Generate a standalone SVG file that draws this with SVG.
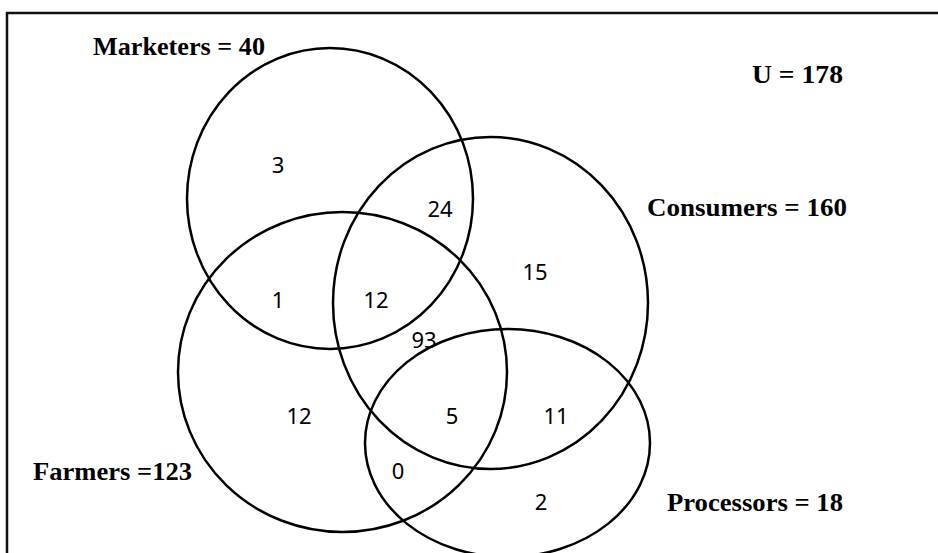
<svg xmlns="http://www.w3.org/2000/svg" width="938" height="553" viewBox="0 0 938 553">
<style>
  .frame { fill: none; stroke: #111; stroke-width: 2.5; }
  .set { fill: none; stroke: #000; stroke-width: 2.5; }
  .lbl { font-family: "Liberation Serif", "Times New Roman", serif; font-size: 26px; font-weight: bold; fill: #000; }
  .num { font-family: "Noto Sans", "Open Sans", sans-serif; font-size: 22px; fill: #000; text-anchor: middle; }
</style>
<rect x="0" y="0" width="938" height="553" fill="#fff"/>
<rect class="frame" x="7" y="13" width="945" height="560"/>
<g id="marketers">
  <ellipse class="set" cx="330" cy="198.5" rx="143" ry="150.5"/>
  <text class="lbl" x="93" y="55" textLength="172" lengthAdjust="spacingAndGlyphs">Marketers = 40</text>
</g>
<g id="consumers">
  <ellipse class="set" cx="490.5" cy="303" rx="157.5" ry="166"/>
  <text class="lbl" x="647" y="216" textLength="200" lengthAdjust="spacingAndGlyphs">Consumers = 160</text>
</g>
<g id="farmers">
  <ellipse class="set" cx="342.5" cy="372" rx="164.5" ry="160"/>
  <text class="lbl" x="33" y="480" textLength="159" lengthAdjust="spacingAndGlyphs">Farmers =123</text>
</g>
<g id="processors">
  <ellipse class="set" cx="507.5" cy="443" rx="142.5" ry="114"/>
  <text class="lbl" x="667" y="511" textLength="176" lengthAdjust="spacingAndGlyphs">Processors = 18</text>
</g>
<g id="universe">
  <text class="lbl" x="752" y="83" textLength="91" lengthAdjust="spacingAndGlyphs">U = 178</text>
</g>
<g id="counts">
  <text class="num" x="278" y="173">3</text>
  <text class="num" x="440" y="217">24</text>
  <text class="num" x="535" y="280">15</text>
  <text class="num" x="278" y="308">1</text>
  <text class="num" x="376" y="308">12</text>
  <text class="num" x="424" y="348">93</text>
  <text class="num" x="299" y="424">12</text>
  <text class="num" x="452" y="424">5</text>
  <text class="num" x="556" y="424">11</text>
  <text class="num" x="398" y="479">0</text>
  <text class="num" x="541" y="510">2</text>
</g>
<g id="connectors"></g>
</svg>
